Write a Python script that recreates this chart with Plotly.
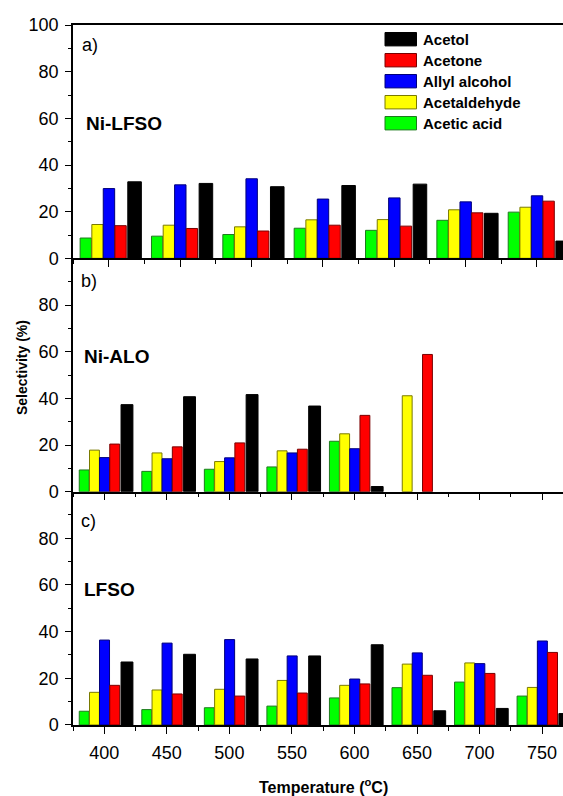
import plotly.graph_objects as go

# ---------------- data ----------------
temps = [400, 450, 500, 550, 600, 650, 700, 750]
series_names = ["Acetic acid", "Acetaldehyde", "Allyl alcohol", "Acetone", "Acetol"]
legend_order = ["Acetol", "Acetone", "Allyl alcohol", "Acetaldehyde", "Acetic acid"]

# a) Ni-LFSO (7 groups visible)
nilfso_acetic_acid   = [8.7, 9.5, 10.2, 12.9, 12.0, 16.3, 19.8]
nilfso_acetaldehyde  = [14.5, 14.2, 13.5, 16.5, 16.6, 20.8, 21.9]
nilfso_allyl_alcohol = [29.9, 31.5, 34.1, 25.4, 25.9, 24.2, 26.8]
nilfso_acetone       = [14.0, 12.8, 11.7, 14.2, 13.8, 19.5, 24.5]
nilfso_acetol        = [32.8, 32.1, 30.7, 31.2, 31.8, 19.3, 7.4]

# b) Ni-ALO
nialo_acetic_acid   = [9.3, 8.7, 9.6, 10.6, 21.6, None, None, None]
nialo_acetaldehyde  = [17.8, 16.6, 12.9, 17.5, 24.8, 41.1, None, None]
nialo_allyl_alcohol = [14.6, 14.1, 14.5, 16.6, 18.4, None, None, None]
nialo_acetone       = [20.4, 19.2, 20.9, 18.2, 32.7, 58.8, None, None]
nialo_acetol        = [37.3, 40.7, 41.6, 36.7, 2.2, None, None, None]

# c) LFSO
lfso_acetic_acid   = [5.9, 6.6, 7.4, 8.1, 11.6, 16.0, 18.4, 12.4]
lfso_acetaldehyde  = [14.0, 15.0, 15.3, 19.1, 17.0, 26.1, 26.6, 16.1]
lfso_allyl_alcohol = [36.4, 35.1, 36.6, 29.6, 19.7, 30.9, 26.3, 36.0]
lfso_acetone       = [17.0, 13.3, 12.4, 13.7, 17.6, 21.3, 22.1, 31.1]
lfso_acetol        = [27.0, 30.3, 28.3, 29.6, 34.4, 6.1, 7.1, 4.9]

panel_labels = ["a)", "b)", "c)"]
panel_names = ["Ni-LFSO", "Ni-ALO", "LFSO"]
y_ticks_top = [0, 20, 40, 60, 80, 100]
y_ticks_lower = [0, 20, 40, 60, 80]

# ---------------- style ----------------
fills = {"Acetic acid": "#00FF00", "Acetaldehyde": "#FFFF00", "Allyl alcohol": "#0000FF",
         "Acetone": "#FF0000", "Acetol": "#000000"}
edges = {"Acetic acid": "#1E7A1E", "Acetaldehyde": "#7A7A00", "Allyl alcohol": "#00007A",
         "Acetone": "#7A0000", "Acetol": "#000000"}
offsets = {"Acetic acid": -20.0, "Acetaldehyde": -11.8, "Allyl alcohol": -3.8,
           "Acetone": 4.4, "Acetol": 13.4}
widths = {"Acetic acid": 7.9, "Acetaldehyde": 7.9, "Allyl alcohol": 8.0,
          "Acetone": 7.9, "Acetol": 9.5}

FONT = "Liberation Sans, Arial, sans-serif"
W, H = 563, 796
ML, MR, MT, MB = 73, 0, 25, 71


def px(xp):
    return (xp - ML) / (W - ML - MR)


def py(yp):
    return (H - MB - yp) / (H - MT - MB)


fig = go.Figure()

panels = [
    (temps[:7], [nilfso_acetic_acid, nilfso_acetaldehyde, nilfso_allyl_alcohol, nilfso_acetone, nilfso_acetol], "x", "y"),
    (temps, [nialo_acetic_acid, nialo_acetaldehyde, nialo_allyl_alcohol, nialo_acetone, nialo_acetol], "x2", "y2"),
    (temps, [lfso_acetic_acid, lfso_acetaldehyde, lfso_allyl_alcohol, lfso_acetone, lfso_acetol], "x3", "y3"),
]

for xs, vals_list, xa, ya in panels:
    for name, vals in zip(series_names, vals_list):
        fig.add_trace(go.Bar(
            x=xs, y=vals, name=name, xaxis=xa, yaxis=ya, showlegend=False,
            width=widths[name], offset=offsets[name],
            marker=dict(color=fills[name], line=dict(color=edges[name], width=1)),
        ))

x_common = dict(
    showline=True, linecolor="black", linewidth=1.5, ticks="outside", ticklen=7, tickwidth=1.3,
    tickcolor="black", tickmode="linear", tick0=400, dtick=50, showgrid=False, zeroline=False,
    minor=dict(ticks="outside", ticklen=4, tickwidth=1.3, tickcolor="black", dtick=25, tick0=375, showgrid=False),
    tickfont=dict(family=FONT, size=18, color="black"),
)
y_common = dict(
    showline=True, linecolor="black", linewidth=1.5, ticks="outside", ticklen=6, tickwidth=1.3,
    tickcolor="black", range=[0, 100], showgrid=False, zeroline=False, tickmode="array",
    minor=dict(ticks="outside", ticklen=3, tickwidth=1.3, tickcolor="black", tickmode="linear", tick0=0, dtick=10, showgrid=False),
    tickfont=dict(family=FONT, size=18, color="black"), ticklabelstandoff=3,
)

third = 1 / 3
fig.update_layout(
    width=W, height=H, margin=dict(l=ML, r=MR, t=MT, b=MB),
    plot_bgcolor="white", paper_bgcolor="white", barmode="overlay", showlegend=False,
    xaxis=dict(x_common, domain=[0, 1], anchor="y", range=[375, 718.4], showticklabels=False, mirror=True),
    yaxis=dict(y_common, domain=[2 * third, 1], anchor="x", tickvals=y_ticks_top),
    xaxis2=dict(x_common, domain=[0, 1], anchor="y2", range=[375, 766.7], showticklabels=False),
    yaxis2=dict(y_common, domain=[third, 2 * third], anchor="x2", tickvals=y_ticks_lower),
    xaxis3=dict(x_common, domain=[0, 1], anchor="y3", range=[375, 766.7], showticklabels=True,
                ticklabelstandoff=4),
    yaxis3=dict(y_common, domain=[0, third], anchor="x3", tickvals=y_ticks_lower),
)

annotations = []
label_pos = [(80, 45), (79, 281), (79, 521)]
name_pos = [(84, 123), (82, 356), (82, 589)]
for lab, (lx, ly) in zip(panel_labels, label_pos):
    annotations.append(dict(text=lab, x=px(lx), y=py(ly), xref="paper", yref="paper",
                            xanchor="left", yanchor="middle", showarrow=False,
                            font=dict(family=FONT, size=18, color="black")))
for nm, (nx, ny) in zip(panel_names, name_pos):
    annotations.append(dict(text="<b>%s</b>" % nm, x=px(nx), y=py(ny), xref="paper", yref="paper",
                            xanchor="left", yanchor="middle", showarrow=False,
                            font=dict(family=FONT, size=19, color="black")))

# axis titles
annotations.append(dict(text="<b>Temperature (<sup>o</sup>C)</b>", x=px(323), y=py(786),
                        xref="paper", yref="paper", xanchor="center", yanchor="middle",
                        showarrow=False, font=dict(family=FONT, size=16, color="black")))
annotations.append(dict(text="<b>Selectivity (%)</b>", x=px(22), y=py(368), textangle=-90,
                        xref="paper", yref="paper", xanchor="center", yanchor="middle",
                        showarrow=False, font=dict(family=FONT, size=14, color="black")))

# legend (drawn as swatches + labels)
shapes = []
for i, nm in enumerate(legend_order):
    cy = 39.2 + 21.0 * i
    shapes.append(dict(type="rect", xref="paper", yref="paper",
                       x0=px(385), x1=px(416.5), y0=py(cy + 6.7), y1=py(cy - 6.7),
                       fillcolor=fills[nm], line=dict(color=edges[nm], width=1)))
    annotations.append(dict(text="<b>%s</b>" % nm, x=px(421), y=py(cy), xref="paper", yref="paper",
                            xanchor="left", yanchor="middle", showarrow=False,
                            font=dict(family=FONT, size=15, color="black")))

fig.update_layout(annotations=annotations, shapes=shapes)

fig.write_html("out.html")
